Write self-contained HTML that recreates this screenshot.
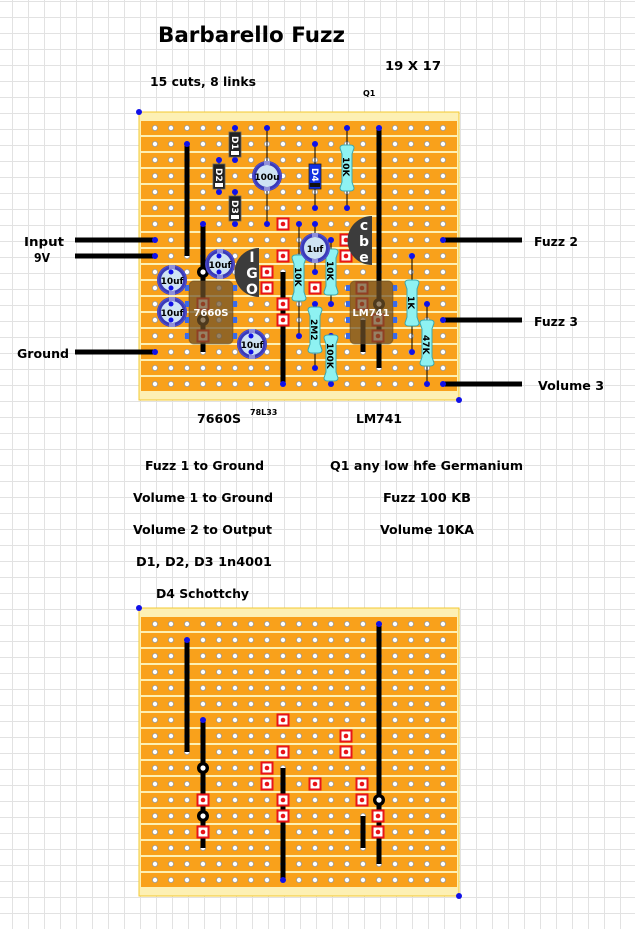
<!DOCTYPE html>
<html><head><meta charset="utf-8"><style>
html,body{margin:0;padding:0;background:#fff;}
svg{display:block;}
text{font-family:"DejaVu Sans","Liberation Sans",sans-serif;font-weight:bold;}
</style></head><body>
<svg width="635" height="929" viewBox="0 0 635 929" xmlns="http://www.w3.org/2000/svg">
<defs>
<pattern id="grid" patternUnits="userSpaceOnUse" x="12" y="1" width="16" height="16">
<path d="M0.5 0V16M0 0.5H16" stroke="#e2e2e2" stroke-width="1" fill="none"/>
</pattern>
<pattern id="strips" patternUnits="userSpaceOnUse" x="141" y="121" width="16" height="16">
<rect x="0" y="0" width="16" height="14" fill="#f9a11b"/>
</pattern>
<pattern id="holes" patternUnits="userSpaceOnUse" x="147" y="120" width="16" height="16">
<circle cx="8" cy="8" r="2.6" fill="#fff" stroke="#9a9a9a" stroke-width="0.8"/>
</pattern>
<g id="cut"><rect x="-6.5" y="-6.5" width="13" height="13" fill="#e8141a"/><rect x="-4.5" y="-4.5" width="9" height="9" fill="#fff"/><circle r="2.3" fill="#e8141a"/></g>
<g id="ring"><circle r="6" fill="#000"/><circle r="2.6" fill="#fff"/></g>
<g id="board">
<rect x="139" y="112" width="320" height="288" fill="#fdf0b4" stroke="#f3c830" stroke-width="1"/>
<rect x="141" y="121" width="316" height="272" fill="url(#strips)"/>
<rect x="147" y="120" width="304" height="272" fill="url(#holes)"/>
<g stroke="#000" stroke-width="5">
<line x1="187" y1="144" x2="187" y2="256"/>
<line x1="203" y1="224" x2="203" y2="352"/>
<line x1="283" y1="272" x2="283" y2="384"/>
<line x1="379" y1="128" x2="379" y2="368"/>
<line x1="363" y1="320" x2="363" y2="352"/>
</g>
<use href="#cut" x="283" y="224"/><use href="#cut" x="346" y="240"/><use href="#cut" x="346" y="256"/>
<use href="#cut" x="283" y="256"/><use href="#cut" x="267" y="272"/><use href="#cut" x="267" y="288"/>
<use href="#cut" x="283" y="304"/><use href="#cut" x="283" y="320"/><use href="#cut" x="315" y="288"/>
<use href="#cut" x="362" y="288"/><use href="#cut" x="362" y="304"/><use href="#cut" x="378" y="320"/>
<use href="#cut" x="378" y="336"/><use href="#cut" x="203" y="304"/><use href="#cut" x="203" y="336"/>
<g fill="#1010e8">
<circle cx="187" cy="144" r="3"/><circle cx="203" cy="224" r="3"/><circle cx="283" cy="384" r="3"/><circle cx="379" cy="128" r="3"/>
</g>
<use href="#ring" x="203" y="272"/><use href="#ring" x="203" y="320"/><use href="#ring" x="379" y="304"/>
<circle cx="139" cy="112" r="3" fill="#1010e8"/><circle cx="459" cy="400" r="3" fill="#1010e8"/>
</g>
<g id="res"><path d="M-7,-20 Q-7,-23 -3,-23 L3,-23 Q7,-23 7,-20 L5,-14 L5,14 L7,20 Q7,23 3,23 L-3,23 Q-7,23 -7,20 L-5,14 L-5,-14 Z" fill="#8ef2f2" stroke="#3aa8b0" stroke-width="1"/></g>
<g id="cap"><circle r="15" fill="#3a3ab8"/><circle r="14" fill="none" stroke="#5050d0" stroke-width="1"/><circle r="11" fill="#cfe3f3"/><rect x="-3" y="-15" width="6" height="4" fill="#9090d8"/><rect x="-3" y="11" width="6" height="4" fill="#9090d8"/></g>
</defs>
<rect width="635" height="929" fill="url(#grid)"/>

<use href="#board"/>
<use href="#board" y="496"/>

<g stroke="#000" stroke-width="5">
<line x1="75" y1="240" x2="155" y2="240"/><line x1="75" y1="256" x2="155" y2="256"/><line x1="75" y1="352" x2="155" y2="352"/>
<line x1="443" y1="240" x2="522" y2="240"/><line x1="443" y1="320" x2="522" y2="320"/><line x1="443" y1="384" x2="522" y2="384"/>
</g>
<g stroke="#000" stroke-width="1">
<line x1="235" y1="128" x2="235" y2="160"/><line x1="219" y1="160" x2="219" y2="192"/><line x1="235" y1="192" x2="235" y2="224"/>
<line x1="267" y1="128" x2="267" y2="224"/><line x1="315" y1="144" x2="315" y2="208"/><line x1="347" y1="128" x2="347" y2="208"/>
<line x1="315" y1="224" x2="315" y2="272"/><line x1="299" y1="224" x2="299" y2="336"/><line x1="331" y1="240" x2="331" y2="304"/>
<line x1="315" y1="304" x2="315" y2="368"/><line x1="331" y1="336" x2="331" y2="384"/><line x1="412" y1="256" x2="412" y2="352"/>
<line x1="427" y1="304" x2="427" y2="384"/>
</g>
<g fill="#1010e8">
<circle cx="155" cy="240" r="3"/><circle cx="155" cy="256" r="3"/><circle cx="155" cy="352" r="3"/>
<circle cx="443" cy="240" r="3"/><circle cx="443" cy="320" r="3"/><circle cx="443" cy="384" r="3"/>
<circle cx="235" cy="128" r="3"/><circle cx="235" cy="160" r="3"/><circle cx="219" cy="160" r="3"/><circle cx="219" cy="192" r="3"/>
<circle cx="235" cy="192" r="3"/><circle cx="235" cy="224" r="3"/><circle cx="267" cy="128" r="3"/><circle cx="267" cy="224" r="3"/>
<circle cx="315" cy="144" r="3"/><circle cx="315" cy="208" r="3"/><circle cx="347" cy="128" r="3"/><circle cx="347" cy="208" r="3"/>
<circle cx="315" cy="224" r="3"/><circle cx="315" cy="272" r="3"/><circle cx="299" cy="224" r="3"/><circle cx="299" cy="336" r="3"/>
<circle cx="331" cy="240" r="3"/><circle cx="331" cy="304" r="3"/><circle cx="315" cy="304" r="3"/><circle cx="315" cy="368" r="3"/>
<circle cx="331" cy="336" r="3"/><circle cx="331" cy="384" r="3"/><circle cx="412" cy="256" r="3"/><circle cx="412" cy="352" r="3"/>
<circle cx="427" cy="304" r="3"/><circle cx="427" cy="384" r="3"/>
</g>

<g>
<rect x="229" y="132" width="12" height="25" fill="#222" stroke="#666" stroke-width="0.8"/><rect x="231" y="151" width="8" height="4" fill="#fff"/>
<text transform="translate(232,136) rotate(90)" font-size="9" fill="#fff">D1</text>
<rect x="213" y="164" width="12" height="25" fill="#222" stroke="#666" stroke-width="0.8"/><rect x="215" y="183" width="8" height="4" fill="#fff"/>
<text transform="translate(216,168) rotate(90)" font-size="9" fill="#fff">D2</text>
<rect x="229" y="196" width="12" height="25" fill="#222" stroke="#666" stroke-width="0.8"/><rect x="231" y="215" width="8" height="4" fill="#fff"/>
<text transform="translate(232,200) rotate(90)" font-size="9" fill="#fff">D3</text>
<rect x="309" y="164" width="12" height="25" fill="#1030e0" stroke="#222" stroke-width="0.8"/><rect x="310" y="183" width="10" height="4" fill="#111"/>
<text transform="translate(312,168) rotate(90)" font-size="9" fill="#fff">D4</text>
</g>

<use href="#res" x="347" y="168"/><text transform="translate(343,157) rotate(90)" font-size="9" fill="#000">10K</text>
<use href="#res" x="299" y="278"/><text transform="translate(295,267) rotate(90)" font-size="9" fill="#000">10K</text>
<use href="#res" x="331" y="272"/><text transform="translate(327,261) rotate(90)" font-size="9" fill="#000">10K</text>
<use href="#res" x="315" y="330"/><text transform="translate(311,319) rotate(90)" font-size="9" fill="#000">2M2</text>
<use href="#res" x="331" y="358"/><text transform="translate(327,343) rotate(90)" font-size="9" fill="#000">100K</text>
<use href="#res" x="412" y="303"/><text transform="translate(408,296) rotate(90)" font-size="9" fill="#000">1K</text>
<use href="#res" x="427" y="343"/><text transform="translate(423,335) rotate(90)" font-size="9" fill="#000">47K</text>

<rect x="189" y="281" width="44" height="63" rx="5" fill="#6e5028" fill-opacity="0.72" stroke="#5a4020" stroke-opacity="0.5"/>
<rect x="350" y="281" width="43" height="63" rx="5" fill="#6e5028" fill-opacity="0.72" stroke="#5a4020" stroke-opacity="0.5"/>
<g fill="#3a6ae8">
<rect x="185" y="285" width="4" height="6"/><rect x="185" y="301" width="4" height="6"/><rect x="185" y="317" width="4" height="6"/><rect x="185" y="333" width="4" height="6"/>
<rect x="233" y="285" width="4" height="6"/><rect x="233" y="301" width="4" height="6"/><rect x="233" y="317" width="4" height="6"/><rect x="233" y="333" width="4" height="6"/>
<rect x="346" y="285" width="4" height="6"/><rect x="346" y="301" width="4" height="6"/><rect x="346" y="317" width="4" height="6"/><rect x="346" y="333" width="4" height="6"/>
<rect x="393" y="285" width="4" height="6"/><rect x="393" y="301" width="4" height="6"/><rect x="393" y="317" width="4" height="6"/><rect x="393" y="333" width="4" height="6"/>
</g>
<text x="211" y="316" font-size="10" fill="#fff" text-anchor="middle">7660S</text>
<text x="371" y="316" font-size="10" fill="#fff" text-anchor="middle">LM741</text>

<use href="#cap" x="267" y="176"/><text x="267" y="180" font-size="9" text-anchor="middle">100u</text>
<use href="#cap" x="315" y="248"/><text x="315" y="252" font-size="9" text-anchor="middle">1uf</text>
<use href="#cap" x="220" y="264"/><text x="220" y="268" font-size="9" text-anchor="middle">10uf</text>
<use href="#cap" x="172" y="280"/><text x="172" y="284" font-size="9" text-anchor="middle">10uf</text>
<use href="#cap" x="172" y="312"/><text x="172" y="316" font-size="9" text-anchor="middle">10uf</text>
<use href="#cap" x="252" y="344"/><text x="252" y="348" font-size="9" text-anchor="middle">10uf</text>
<g fill="#1010e8">
<circle cx="219" cy="256" r="2.5"/><circle cx="219" cy="272" r="2.5"/><circle cx="171" cy="272" r="2.5"/><circle cx="171" cy="288" r="2.5"/>
<circle cx="171" cy="304" r="2.5"/><circle cx="171" cy="320" r="2.5"/><circle cx="251" cy="336" r="2.5"/><circle cx="251" cy="352" r="2.5"/>
</g>

<path d="M259,248 L259,297 A24.5,24.5 0 0 1 259,248 Z" fill="#3c3c3c"/>
<text x="252" y="262" font-size="14" fill="#fff" text-anchor="middle" font-family="Liberation Serif,serif">I</text>
<text x="252" y="278" font-size="14" fill="#fff" text-anchor="middle" font-family="Liberation Serif,serif">G</text>
<text x="252" y="294" font-size="14" fill="#fff" text-anchor="middle" font-family="Liberation Serif,serif">O</text>
<path d="M372,216 L372,265 A24.5,24.5 0 0 1 372,216 Z" fill="#3c3c3c"/>
<text x="364" y="230" font-size="14" fill="#fff" text-anchor="middle" font-family="Liberation Sans,sans-serif">c</text>
<text x="364" y="246" font-size="14" fill="#fff" text-anchor="middle" font-family="Liberation Sans,sans-serif">b</text>
<text x="364" y="262" font-size="14" fill="#fff" text-anchor="middle" font-family="Liberation Sans,sans-serif">e</text>

<text x="158" y="42" font-size="21" textLength="187" lengthAdjust="spacingAndGlyphs">Barbarello Fuzz</text>
<text x="150" y="86" font-size="12" textLength="106" lengthAdjust="spacingAndGlyphs">15 cuts, 8 links</text>
<text x="385" y="70" font-size="12" textLength="56" lengthAdjust="spacingAndGlyphs">19 X 17</text>
<text x="363" y="96" font-size="8">Q1</text>
<text x="24" y="246" font-size="12" textLength="40" lengthAdjust="spacingAndGlyphs">Input</text>
<text x="34" y="262" font-size="12" textLength="16" lengthAdjust="spacingAndGlyphs">9V</text>
<text x="17" y="358" font-size="12" textLength="52" lengthAdjust="spacingAndGlyphs">Ground</text>
<text x="534" y="246" font-size="12" textLength="44" lengthAdjust="spacingAndGlyphs">Fuzz 2</text>
<text x="534" y="326" font-size="12" textLength="44" lengthAdjust="spacingAndGlyphs">Fuzz 3</text>
<text x="538" y="390" font-size="12" textLength="66" lengthAdjust="spacingAndGlyphs">Volume 3</text>
<text x="197" y="423" font-size="12" textLength="44" lengthAdjust="spacingAndGlyphs">7660S</text>
<text x="250" y="415" font-size="8">78L33</text>
<text x="356" y="423" font-size="12" textLength="46" lengthAdjust="spacingAndGlyphs">LM741</text>
<text x="145" y="470" font-size="12" textLength="119" lengthAdjust="spacingAndGlyphs">Fuzz 1 to Ground</text>
<text x="133" y="502" font-size="12" textLength="140" lengthAdjust="spacingAndGlyphs">Volume 1 to Ground</text>
<text x="133" y="534" font-size="12" textLength="139" lengthAdjust="spacingAndGlyphs">Volume 2 to Output</text>
<text x="136" y="566" font-size="12" textLength="136" lengthAdjust="spacingAndGlyphs">D1, D2, D3 1n4001</text>
<text x="156" y="598" font-size="12" textLength="93" lengthAdjust="spacingAndGlyphs">D4 Schottchy</text>
<text x="330" y="470" font-size="12" textLength="193" lengthAdjust="spacingAndGlyphs">Q1 any low hfe Germanium</text>
<text x="383" y="502" font-size="12" textLength="88" lengthAdjust="spacingAndGlyphs">Fuzz 100 KB</text>
<text x="380" y="534" font-size="12" textLength="94" lengthAdjust="spacingAndGlyphs">Volume 10KA</text>
</svg>
</body></html>
